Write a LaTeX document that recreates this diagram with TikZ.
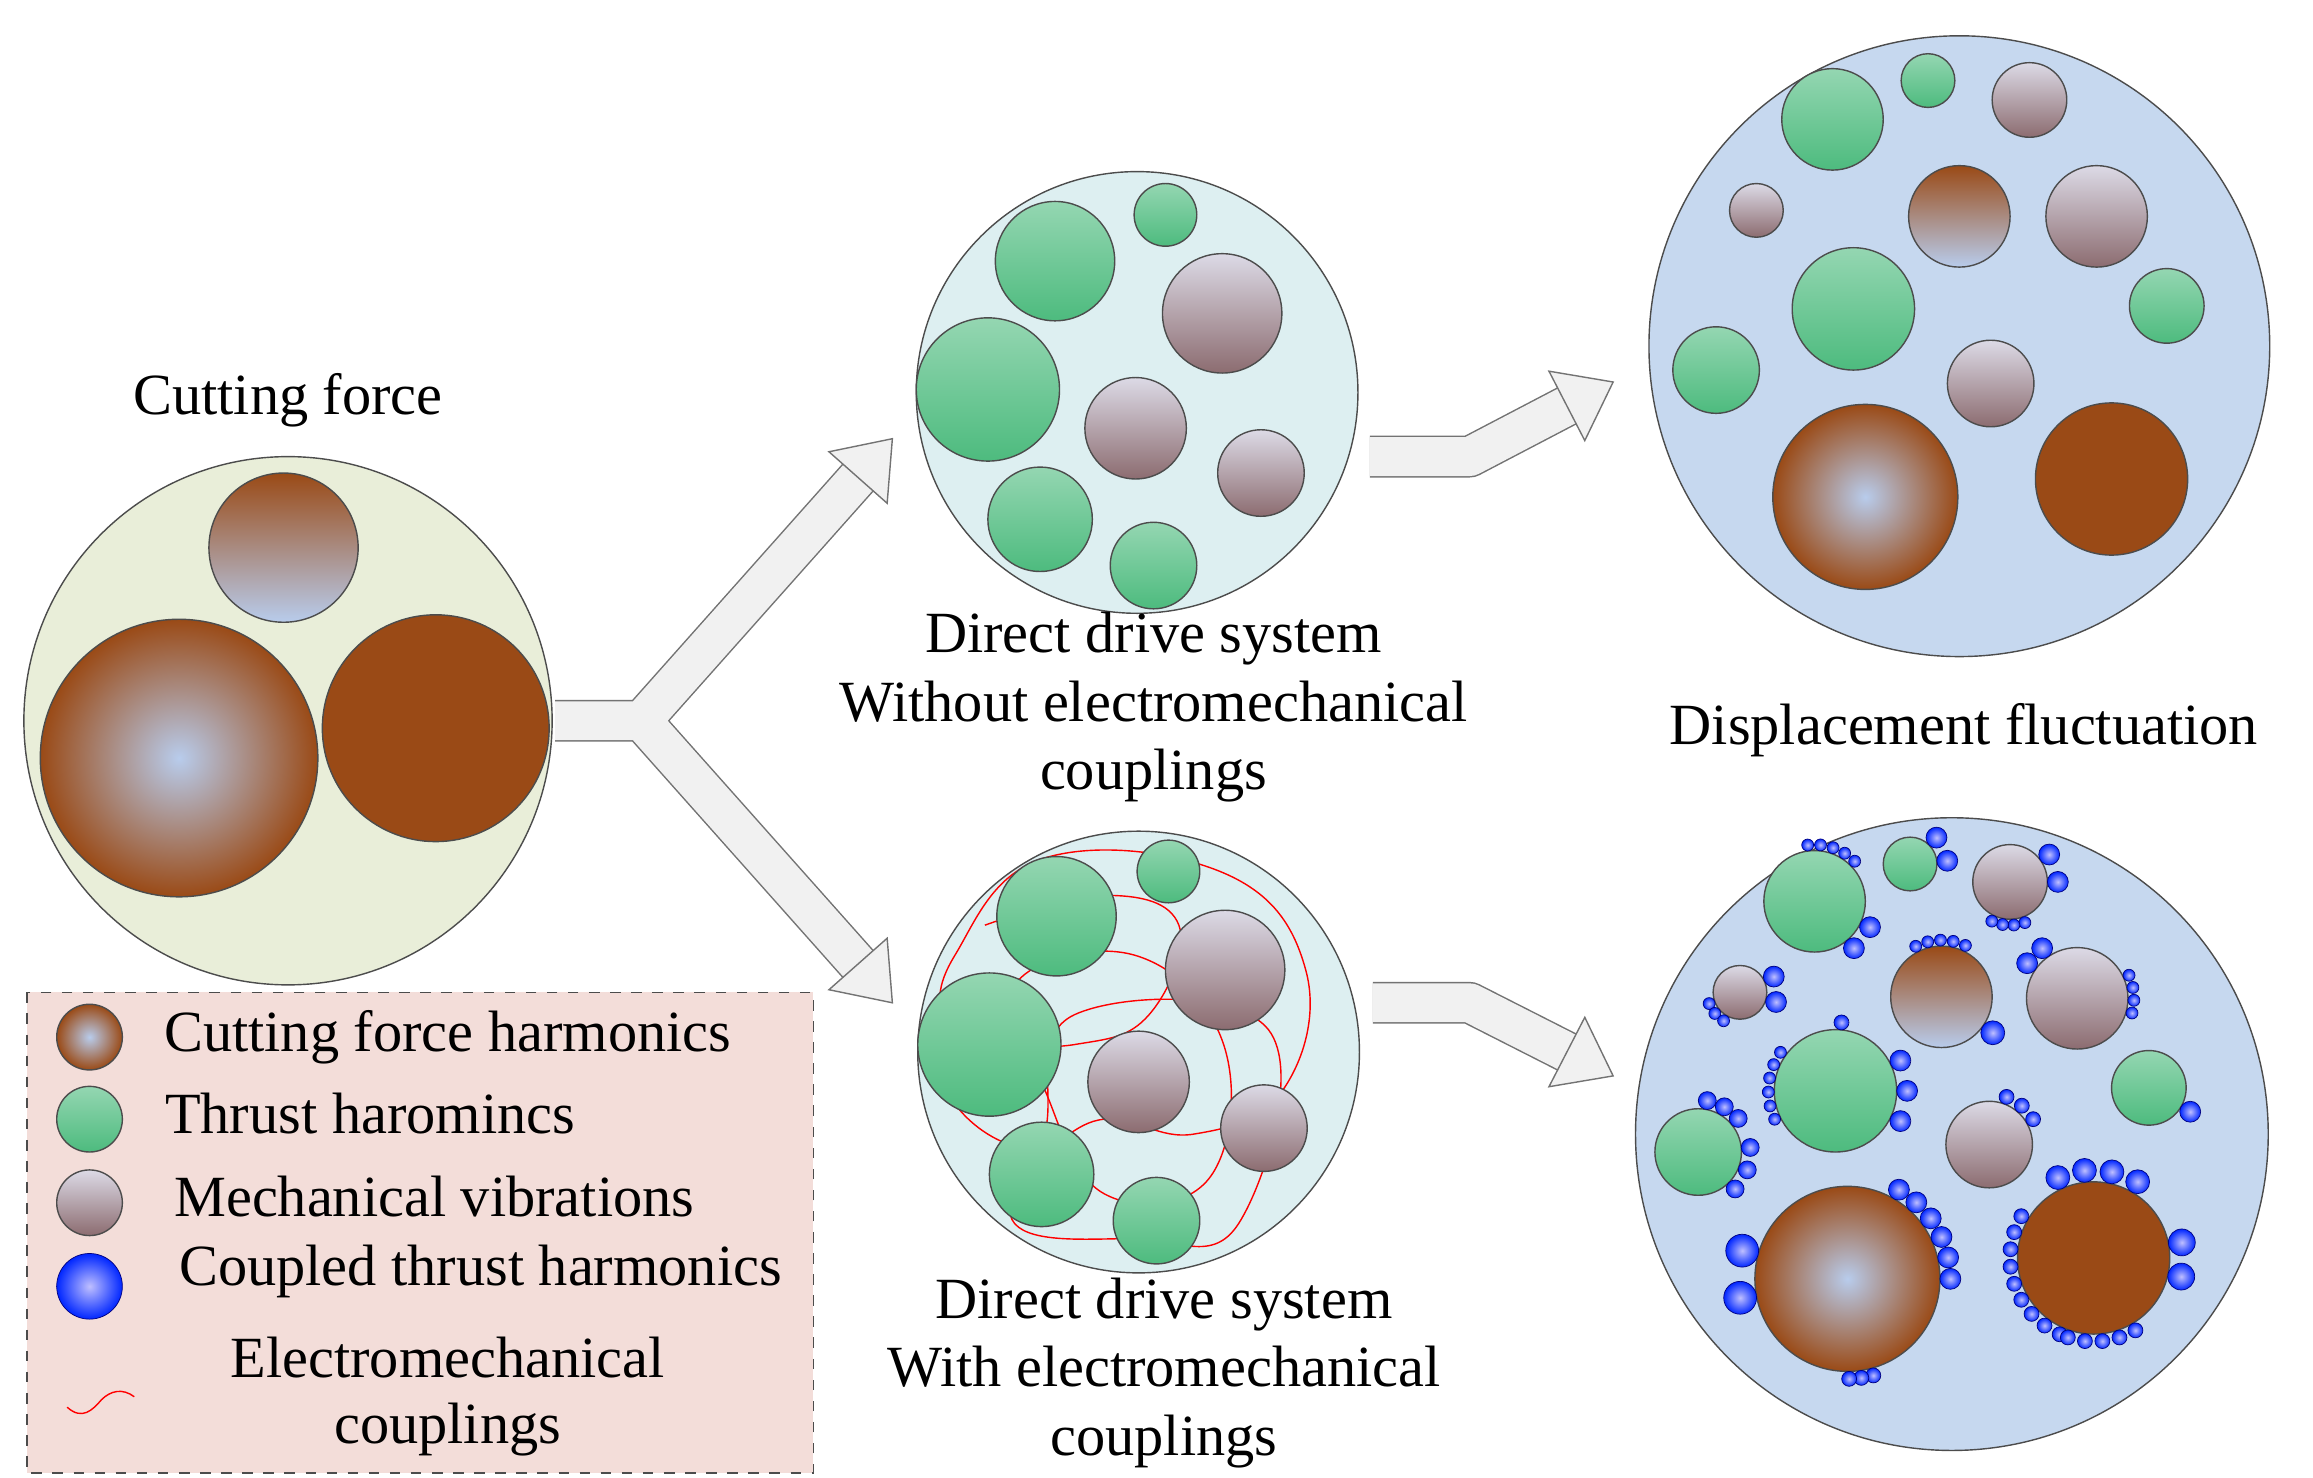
\documentclass[tikz,border=0pt]{standalone}
\usepackage{fontspec}
\setmainfont{Liberation Serif}
\usetikzlibrary{calc}
\definecolor{brn}{HTML}{9A4A16}
\definecolor{lbl}{HTML}{B8CCEC}
\definecolor{grn}{HTML}{4DBB7E}
\definecolor{lgr}{HTML}{CFE8E4}
\definecolor{gdk}{HTML}{8C6C70}
\definecolor{glt}{HTML}{DCDAE6}
\definecolor{arf}{HTML}{F1F1F1}
\definecolor{lfill}{HTML}{E9EED9}
\definecolor{legf}{HTML}{F3DDD9}
\definecolor{mfill}{HTML}{DDEFF1}
\definecolor{rfill}{HTML}{C6D8EF}
\def\u{0.014923cm}
\newcommand\Cgreen[3]{\shade[top color=grn!60,middle color=lgr,bottom color=grn] (#1,#2) circle[radius=#3*\u];\draw[black!70,thin] (#1,#2) circle[radius=#3*\u];}
\newcommand\Cgray[3]{\shade[top color=glt,bottom color=gdk] (#1,#2) circle[radius=#3*\u];\draw[black!70,thin] (#1,#2) circle[radius=#3*\u];}
\newcommand\Cbrad[3]{\shade[inner color=lbl,outer color=brn] (#1,#2) circle[radius=#3*\u];\draw[black!70,thin] (#1,#2) circle[radius=#3*\u];}
\newcommand\Cbvert[3]{\shade[top color=brn,bottom color=lbl] (#1,#2) circle[radius=#3*\u];\draw[black!70,thin] (#1,#2) circle[radius=#3*\u];}
\newcommand\Cbstr[3]{\shade[top color=brn,middle color=lbl,bottom color=brn,shading angle=90] (#1,#2) circle[radius=#3*\u];\draw[black!70,thin] (#1,#2) circle[radius=#3*\u];}
\newcommand\Cblue[3]{\shade[inner color=blue!25,outer color=blue!85!cyan] (#1,#2) circle[radius=#3*\u];\draw[blue!50!black,very thin] (#1,#2) circle[radius=#3*\u];}
\newcommand\bubs[5]{\foreach \a in {#5}{\pgfmathsetmacro\bx{#1+(#3+#4)*cos(\a)}\pgfmathsetmacro\by{#2-(#3+#4)*sin(\a)}\Cblue{\bx}{\by}{#4}}}
\tikzset{lab/.style={font=\fontsize{16.6}{19.5}\selectfont},
 bigc/.style={draw=black!70,thin},
 shaft/.style={line width=28*\u,draw=black!55,line join=round},
 shafti/.style={line width=26*\u,draw=arf,line join=round},
 head/.style={fill=arf,draw=black!55,thin,line join=miter}}
\begin{document}
\begin{tikzpicture}[x=\u,y=-\u]
\useasboundingbox (0,0) rectangle (1550,990);
% arrows
\coordinate (s0) at (372,483); \coordinate (s1) at (430,483);
\coordinate (b1) at (575,320); \coordinate (t1) at (598,294);
\coordinate (b2) at (575,646); \coordinate (t2) at (598,672);
\coordinate (r0) at (918,306); \coordinate (r1) at (985,306);
\coordinate (b3) at (1050,272); \coordinate (t3) at (1081,256);
\coordinate (q0) at (920,672); \coordinate (q1) at (985,672);
\coordinate (b4) at (1050,705); \coordinate (t4) at (1081,721);
\draw[shaft] (s0)--(s1)--(b1) (s1)--(b2) (r0)--(r1)--(b3) (q0)--(q1)--(b4);
\draw[shafti] (s0)--(s1)--(b1) (s1)--(b2) (r0)--(r1)--(b3) (q0)--(q1)--(b4);
\foreach \b/\t in {b1/t1,b2/t2,b3/t3,b4/t4}{
 \draw[head] (\t)--($(\b)!0.75!90:(\t)$)--($(\b)!0.75!-90:(\t)$)--cycle;}
% left circle
\node[lab] (cf) at (193,268) {Cutting force};
\draw[bigc,fill=lfill] (193,483) circle[radius=177*\u];
\Cbvert{190}{367}{50}
\Cbrad{120}{508}{93}
\Cbstr{292}{488}{76}
% legend
\draw[dashed,black!70,fill=legf] (18,665) rectangle (545,987);
\Cbrad{60}{695}{22} \node[lab] (l1) at (300,695) {Cutting force harmonics};
\Cgreen{60}{750}{22} \node[lab] (l2) at (248,746) {Thrust haromincs};
\Cgray{60}{806}{22} \node[lab] (l3) at (291,802) {Mechanical vibrations};
\Cblue{60}{862}{22} \node[lab] (l4) at (322,852) {Coupled thrust harmonics};
\draw[red,thin] (45,943) .. controls (55,952) and (62,945) .. (68,938) .. controls (74,932) and (82,930) .. (90,936);
\node[lab] (l5) at (300,910) {Electromechanical};
\node[lab] (l6) at (300,958) {couplings};
% middle top
\draw[bigc,fill=mfill] (762,263) circle[radius=148*\u];
\Cgreen{707}{175}{40}\Cgreen{781}{144}{21}\Cgray{819}{210}{40}\Cgreen{662}{261}{48}
\Cgray{761}{287}{34}\Cgray{845}{317}{29}\Cgreen{697}{348}{35}\Cgreen{773}{379}{29}
\node[lab,align=center] (m1) at (773,474) {Direct drive system\\Without electromechanical\\couplings};
% middle bottom
\draw[bigc,fill=mfill] (763,705) circle[radius=148*\u];
\draw[red,thin] plot[smooth cycle,tension=0.7] coordinates {(640,640)(700,575)(820,585)(875,650)(860,730)(800,760)(740,750)(690,770)(640,740)(630,690)};
\draw[red,thin] plot[smooth cycle,tension=0.7] coordinates {(680,660)(760,640)(820,700)(810,790)(740,800)(700,730)};
\draw[red,thin] plot[smooth cycle,tension=0.7] coordinates {(720,680)(850,690)(830,820)(760,830)(680,820)(700,760)};
\draw[red,thin] plot[smooth,tension=0.7] coordinates {(660,620)(740,600)(790,620)(770,680)(720,700)(650,700)};
\Cgreen{783}{584}{21}\Cgreen{708}{614}{40}\Cgray{821}{650}{40}\Cgreen{663}{700}{48}
\Cgray{763}{725}{34}\Cgray{847}{756}{29}\Cgreen{698}{787}{35}\Cgreen{775}{818}{29}
\node[lab,align=center] (m2) at (780,920) {Direct drive system\\With electromechanical\\couplings};
% right top
\draw[bigc,fill=rfill] (1313,232) circle[radius=208*\u];
\Cgreen{1228}{80}{34}\Cgreen{1292}{54}{18}\Cgray{1360}{67}{25}\Cgray{1177}{141}{18}
\Cbvert{1313}{145}{34}\Cgray{1405}{145}{34}\Cgreen{1242}{207}{41}\Cgreen{1452}{205}{25}
\Cgreen{1150}{248}{29}\Cgray{1334}{257}{29}\Cbrad{1250}{333}{62}\Cbstr{1415}{321}{51}
\node[lab] (df) at (1316,489) {Displacement fluctuation};
% right bottom
\draw[bigc,fill=rfill] (1308,760) circle[radius=212*\u];
\Cgreen{1216}{604}{34}\Cgreen{1280}{579}{18}\Cgray{1347}{591}{25}\Cgray{1166}{665}{18}
\Cbvert{1301}{668}{34}\Cgray{1392}{669}{34}\Cgreen{1230}{731}{41}\Cgreen{1440}{729}{25}
\Cgreen{1138}{772}{29}\Cgray{1333}{767}{29}\Cbrad{1238}{857}{62}\Cbstr{1403}{843}{51}
\bubs{1216}{604}{34}{4}{45,58,71,84,97}\bubs{1216}{604}{34}{7}{-25,-50}
\bubs{1280}{579}{18}{7}{5,45}
\bubs{1347}{591}{25}{7}{0,35}\bubs{1347}{591}{25}{4}{-70,-85,-100,-115}
\bubs{1166}{665}{18}{7}{25,-15}\bubs{1166}{665}{18}{4}{200,220,240}
\bubs{1301}{668}{34}{4}{65,78,91,104,117}\bubs{1301}{668}{34}{8}{-35}
\bubs{1392}{669}{34}{4}{-15,-2,11,24}\bubs{1392}{669}{34}{7}{125,145}
\bubs{1230}{731}{41}{4}{145,157,169,181,193,205}\bubs{1230}{731}{41}{7}{-25,0,25}\bubs{1230}{731}{41}{5}{85}
\bubs{1440}{729}{25}{7}{-30}
\bubs{1138}{772}{29}{6}{40,60,80}\bubs{1138}{772}{29}{6}{5,-20,-45}
\bubs{1333}{767}{29}{5}{30,50,70}
\bubs{1238}{857}{62}{11}{165,190}\bubs{1238}{857}{62}{7}{0,12,24,36,48,60}\bubs{1238}{857}{62}{5}{-75,-82,-89}
\bubs{1403}{843}{51}{8}{60,78,96,114}\bubs{1403}{843}{51}{5}{150,162,174,186,198,210,222,234,246}\bubs{1403}{843}{51}{9}{10,-12}\bubs{1403}{843}{51}{5}{-60,-72,-84,-96,-108}
\end{tikzpicture}
\end{document}
